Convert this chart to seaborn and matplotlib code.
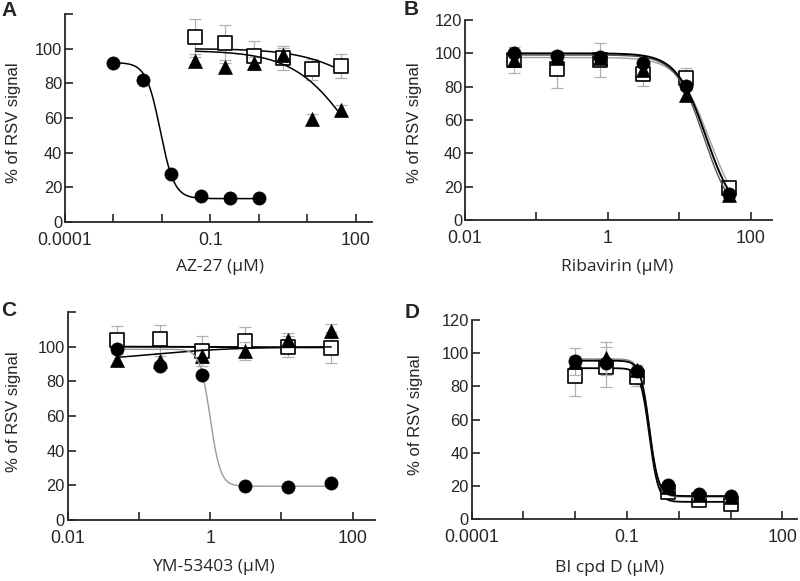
import numpy as np
import pandas as pd
import seaborn as sns
import matplotlib.pyplot as plt
from matplotlib.ticker import FixedLocator, FixedFormatter, NullLocator

sns.set_style("ticks")
plt.rcParams['font.family'] = ['Liberation Sans', 'DejaVu Sans']

# concentrations (uM)
conc_A_circ = [0.001, 0.004, 0.0156, 0.0625, 0.25, 1.0]
conc_std = [0.049, 0.195, 0.78, 3.125, 12.5, 50]
conc_D = [0.0098, 0.039, 0.156, 0.625, 2.5, 10]

# panel A - AZ-27
A_circ = [91.5, 82, 27.5, 14.8, 13.8, 13.6]
A_sq = [107, 103.5, 96, 94.5, 88, 90]
A_sq_err = [10, 10, 8.5, 7, 6, 7]
A_tri = [93, 89.6, 92, 96.4, 59.5, 64.5]
A_tri_err = [2, 2, 3, 4, 3, 3]

# panel B - Ribavirin
B_circ = [100, 98.4, 97.6, 94.4, 80.6, 15.6]
B_sq = [96, 90.4, 96, 87.6, 85.4, 19]
B_sq_err = [8, 11, 10, 7, 6, 3]
B_tri = [96, 97, 97, 90, 75, 15]
B_tri_err = [3, 3, 3, 3, 3, 2]

# panel C - YM-53403
C_circ = [98.8, 88.8, 83.4, 19.7, 18.9, 21.6]
C_sq = [104, 104.5, 97.5, 103.5, 100, 99.4]
C_sq_err = [8, 8, 8.5, 8, 6, 9]
C_tri = [92.5, 91.7, 94.6, 97.5, 104, 109]
C_tri_err = [3, 3, 4, 5, 4, 4]

# panel D - BI cpd D
D_circ = [95.5, 94.3, 89.3, 20.6, 15.2, 14]
D_sq = [86.5, 91.9, 85.5, 16.6, 11.6, 9.2]
D_sq_err = [12, 12, 5, 3, 3, 3]
D_tri = [94.9, 97, 89.9, 19.6, 14.6, 13.2]
D_tri_err = [8, 10, 3, 3, 2, 2]

# fitted curve parameters: (top, bottom, ic50, hill)
fit_A = {'circ': (92, 13.5, 0.0092, 3.0), 'sq': (100, 60, 150, 0.7), 'tri': (99, 0, 100, 0.7)}
fit_B = {'circ': (100, 0, 23.5, 2.1), 'sq': (97.5, 0, 26, 2.0), 'tri': (99, 0, 22, 2.2)}
fit_C = {'circ': (98.5, 19.5, 1.0, 6.0), 'sq': (100, 99.6, 1.0, 1.0), 'tri': (91, 100, 0.15, 0.7)}
fit_D = {'circ': (95.5, 14, 0.27, 5.0), 'sq': (91, 10.5, 0.27, 5.0), 'tri': (96.5, 13.5, 0.27, 5.0)}


def four_pl(x, top, bottom, ic50, hill):
    return top + (bottom - top) / (1 + (ic50 / x) ** hill)


W, H = 800, 581
fig = plt.figure(figsize=(8, 5.81), dpi=100)


def make_ax(l, r, t, b):
    return fig.add_axes([l / W, (H - b) / H, (r - l) / W, (b - t) / H])


def style_ax(ax, xmin, xmax, xticks, xlabs, ylabs):
    ax.set_xscale('log')
    ax.set_xlim(xmin, xmax)
    ax.set_ylim(0, 120)
    ax.xaxis.set_major_locator(FixedLocator(xticks))
    ax.xaxis.set_major_formatter(FixedFormatter(xlabs))
    ax.xaxis.set_minor_locator(NullLocator())
    ax.set_yticks([0, 20, 40, 60, 80, 100, 120])
    ax.set_yticklabels(ylabs)
    ax.tick_params(axis='x', direction='in', length=6, width=1.2, labelsize=12.8, pad=7)
    ax.tick_params(axis='y', direction='in', length=6, width=1.2, labelsize=11.8, pad=2)
    for s in ['left', 'bottom']:
        ax.spines[s].set_linewidth(1.3)
    sns.despine(ax=ax)
    ax.set_facecolor('white')


def draw_series(ax, x, y, err, fit, marker, lcolor, lw, z):
    if err is not None:
        ax.errorbar(x, y, yerr=err, fmt='none', ecolor='#b0b0b0', elinewidth=0.9,
                    capsize=4, capthick=0.9, zorder=z)
    xs = np.logspace(np.log10(x[0]), np.log10(x[-1]), 200)
    df_fit = pd.DataFrame({'x': xs, 'y': four_pl(xs, *fit)})
    sns.lineplot(data=df_fit, x='x', y='y', ax=ax, color=lcolor, lw=lw, zorder=z + 1)
    df = pd.DataFrame({'x': x, 'y': y})
    if marker == 's':
        sns.scatterplot(data=df, x='x', y='y', ax=ax, marker='s', s=90, color='white',
                        edgecolor='black', linewidth=1.2, zorder=z + 2)
    elif marker == '^':
        sns.scatterplot(data=df, x='x', y='y', ax=ax, marker='^', s=100, color='black',
                        edgecolor='black', linewidth=0.5, zorder=z + 2)
    else:
        sns.scatterplot(data=df, x='x', y='y', ax=ax, marker='o', s=90, color='black',
                        edgecolor='black', linewidth=0.5, zorder=z + 2)


dec4 = [1e-4, 1e-3, 1e-2, 1e-1, 1, 10, 100]
lab4 = ['0.0001', '', '', '0.1', '', '', '100']
dec2 = [1e-2, 1e-1, 1, 10, 100]
lab2 = ['0.01', '', '1', '', '100']
ylab_short = ['0', '20', '40', '60', '80', '100', '']
ylab_full = ['0', '20', '40', '60', '80', '100', '120']

xfont = dict(family=['Open Sans', 'DejaVu Sans'], size=12.5)
yfont = dict(size=12)

# A
axA = make_ax(65, 372, 14, 222)
style_ax(axA, 1e-4, 214, dec4, lab4, ylab_short)
draw_series(axA, conc_std, A_sq, A_sq_err, fit_A['sq'], 's', 'black', 1.1, 2)
draw_series(axA, conc_std, A_tri, A_tri_err, fit_A['tri'], '^', 'black', 1.1, 5)
draw_series(axA, conc_A_circ, A_circ, None, fit_A['circ'], 'o', 'black', 1.1, 8)

# B
axB = make_ax(465, 772, 20, 220)
style_ax(axB, 1e-2, 197, dec2, lab2, ylab_full)
draw_series(axB, conc_std, B_sq, B_sq_err, fit_B['sq'], 's', '#a0a0a0', 1.0, 2)
draw_series(axB, conc_std, B_tri, B_tri_err, fit_B['tri'], '^', '#555555', 1.0, 5)
draw_series(axB, conc_std, B_circ, None, fit_B['circ'], 'o', 'black', 1.4, 8)

# C
axC = make_ax(67.7, 375, 312, 520)
style_ax(axC, 1e-2, 206, dec2, lab2, ylab_short)
draw_series(axC, conc_std, C_sq, C_sq_err, fit_C['sq'], 's', 'black', 1.4, 2)
draw_series(axC, conc_std, C_tri, C_tri_err, fit_C['tri'], '^', 'black', 1.1, 5)
draw_series(axC, conc_std, C_circ, None, fit_C['circ'], 'o', '#999999', 1.0, 8)

# D
axD = make_ax(471.7, 797, 320, 519.3)
style_ax(axD, 1e-4, 192, dec4, lab4, ylab_full)
draw_series(axD, conc_D, D_sq, D_sq_err, fit_D['sq'], 's', 'black', 1.3, 2)
draw_series(axD, conc_D, D_tri, D_tri_err, fit_D['tri'], '^', '#888888', 1.1, 5)
draw_series(axD, conc_D, D_circ, None, fit_D['circ'], 'o', 'black', 1.3, 8)

labels = [
    (axA, 'AZ-27 (\u03bcM)', (0.505, -0.216), (-0.169, 0.476)),
    (axB, 'Ribavirin (\u03bcM)', (0.495, -0.235), (-0.163, 0.485)),
    (axC, 'YM-53403 (\u03bcM)', (0.473, -0.226), (-0.178, 0.52)),
    (axD, 'BI cpd D (\u03bcM)', (0.425, -0.244), (-0.174, 0.523)),
]
for ax, xl, xc, yc in labels:
    ax.set_xlabel(xl, **xfont)
    ax.xaxis.label.set_va('center')
    ax.xaxis.set_label_coords(*xc)
    ax.set_ylabel('% of RSV signal', **yfont)
    ax.yaxis.label.set_va('center')
    ax.yaxis.set_label_coords(*yc)

for letter, px, py in [('A', 1, 1), ('B', 404, 0), ('C', 1, 301), ('D', 405, 303)]:
    fig.text(px / W, 1 - py / H, letter, fontsize=15, fontweight='bold', va='top', ha='left')

fig.savefig('out.png', dpi=100, facecolor='white')
